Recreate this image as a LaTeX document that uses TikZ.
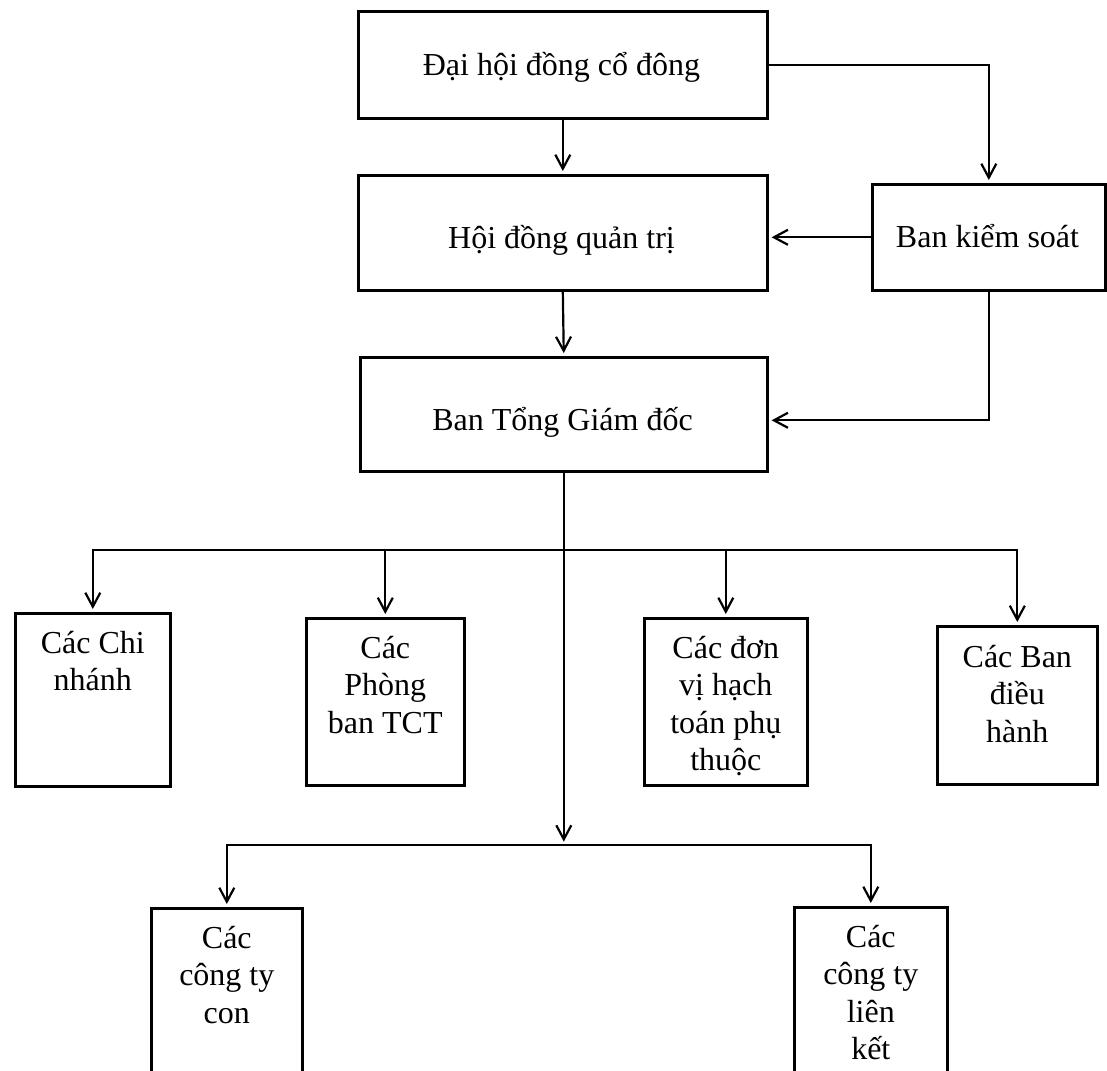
\documentclass[tikz,border=0pt]{standalone}
\usepackage{fontspec}
\setmainfont{Liberation Serif}
\usetikzlibrary{arrows.meta}
\begin{document}
\begin{tikzpicture}[x=1pt,y=-1pt,
  box/.style={draw, line width=2.6pt, inner sep=0pt, anchor=north west},
  lbl/.style={font=\fontsize{32}{37.5}\selectfont, align=center, inner sep=0pt, anchor=base},
  conn/.style={line width=2.2pt},
  arr/.style={conn, -{Straight Barb[length=14pt,width=15pt]}, shorten >=3pt}]
\useasboundingbox (0,0) rectangle (1107,1070);
\clip (0,0) rectangle (1107,1070);
% boxes
\node[box, minimum width=409pt, minimum height=107pt] (dh)  at (357,10)  {};
\node[box, minimum width=409pt, minimum height=115pt] (hd)  at (357,174) {};
\node[box, minimum width=407pt, minimum height=114pt] (tgd) at (359,356) {};
\node[box, minimum width=233pt, minimum height=106pt] (bks) at (871,183) {};
\node[box, minimum width=155pt, minimum height=173pt] (chi) at (14,612)  {};
\node[box, minimum width=158pt, minimum height=167pt] (pb)  at (305,617) {};
\node[box, minimum width=163pt, minimum height=167pt] (dv)  at (643,617) {};
\node[box, minimum width=160pt, minimum height=158pt] (bdh) at (936,625) {};
\node[box, minimum width=151pt, minimum height=180pt] (con) at (150,907) {};
\node[box, minimum width=153pt, minimum height=180pt] (lk)  at (793,906) {};
% labels (base anchor = baseline of the last line)
\node[lbl] (dhT)  at (561.5,76)  {Đại hội đồng cổ đông};
\node[lbl] (hdT)  at (561.5,248) {Hội đồng quản trị};
\node[lbl] (tgdT) at (562.5,430) {Ban Tổng Giám đốc};
\node[lbl] (bksT) at (987.5,247) {Ban kiểm soát};
\node[lbl] (chiT) at ([yshift=-78.5pt]chi.north) {Các Chi\\nhánh};
\node[lbl] (pbT)  at ([yshift=-116pt]pb.north)  {Các\\Phòng\\ban TCT};
\node[lbl] (dvT)  at ([yshift=-153.5pt]dv.north)  {Các đơn\\vị hạch\\toán phụ\\thuộc};
\node[lbl] (bdhT) at ([yshift=-117pt]bdh.north) {Các Ban\\điều\\hành};
\node[lbl] (conT) at ([yshift=-116pt]con.north) {Các\\công ty\\con};
\node[lbl] (lkT)  at ([yshift=-153.5pt]lk.north)  {Các\\công ty\\liên\\kết};
% connectors
\draw[arr] (dh.south) -- (hd.north);
\draw[arr] (hd.south) -- (tgd.north);
\draw[arr] (dh.east) -| (bks.north);
\draw[arr] (bks.west) -- (bks.west -| hd.east);
\draw[arr] (bks.south) |- ([yshift=-6pt]tgd.east);
\path (tgd.south) ++(0,77) coordinate (bus1);
\path (tgd.south) ++(0,372) coordinate (bus2);
\draw[arr] (tgd.south) -- (bus2);
\draw[arr] (bus1) -| (chi.north);
\draw[arr] (bus1) -| (pb.north);
\draw[arr] (bus1) -| (dv.north);
\draw[arr] (bus1) -| (bdh.north);
\draw[arr] (bus2) -| (con.north);
\draw[arr] (bus2) -| (lk.north);
\end{tikzpicture}
\end{document}
